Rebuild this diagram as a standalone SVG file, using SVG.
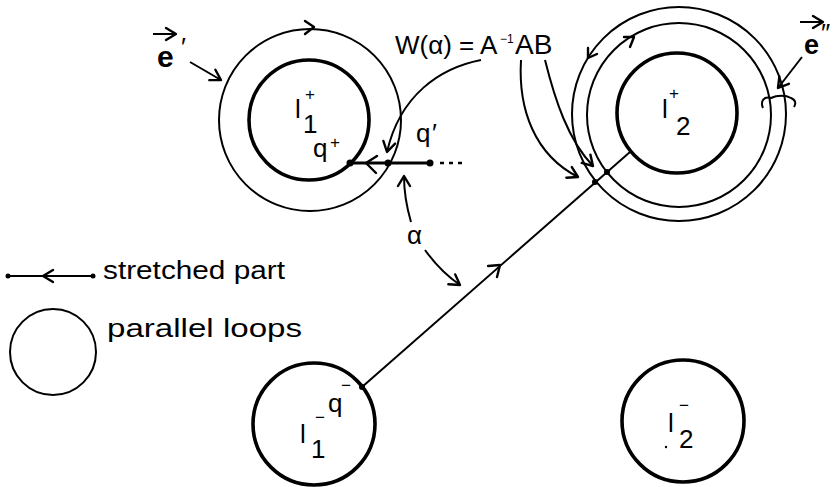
<svg xmlns="http://www.w3.org/2000/svg" width="836" height="487" viewBox="0 0 836 487">
  <style>
    .thin { fill: none; stroke: #000; stroke-width: 2; }
    .thick { fill: none; stroke: #000; stroke-width: 3.6; }
    .bar { fill: none; stroke: #000; stroke-width: 3; }
    .chev { fill: none; stroke: #000; stroke-width: 2.4; stroke-linecap: round; stroke-linejoin: round; }
    .dot { fill: #000; }
    .t { font-family: "Liberation Sans", Arial, sans-serif; fill: #000; }
    .big { font-size: 26px; }
    .sup { font-size: 17px; }
    .vec { font-weight: bold; }
  </style>
  <defs>
    <marker id="head" markerUnits="userSpaceOnUse" markerWidth="16" markerHeight="16" refX="0" refY="0" viewBox="-12 -8 14 16" orient="auto">
      <path d="M -10 -6 L 0 0 L -10 6" fill="none" stroke="#000" stroke-width="2.4" stroke-linecap="round" stroke-linejoin="round"/>
    </marker>
  </defs>

  <!-- loop l1+ with its parallel loop -->
  <g id="loop-l1-plus">
    <circle class="thin" cx="310" cy="120" r="91"/>
    <circle class="thick" cx="309" cy="120" r="60"/>
    <path class="chev" d="M 305 21 L 314 27 L 305 34"/>
    <text class="t big"><tspan x="295" y="118">l</tspan><tspan class="sup" x="305" y="100">+</tspan><tspan x="303" y="133">1</tspan></text>
  </g>

  <!-- loop l2+ with its two parallel loops -->
  <g id="loop-l2-plus">
    <circle class="thin" cx="679" cy="114" r="107"/>
    <circle class="thin" cx="679" cy="115" r="92"/>
    <circle class="thick" cx="677" cy="113" r="60"/>
    <path class="chev" d="M 624 37 L 634 37 L 630 47"/>
    <path class="chev" d="M 597 54 L 588 58 L 588 48"/>
    <text class="t big"><tspan x="662" y="118">l</tspan><tspan class="sup" x="669" y="99">+</tspan><tspan x="676" y="135">2</tspan></text>
  </g>

  <!-- loop l1- and the base point q- -->
  <g id="loop-l1-minus">
    <circle class="thick" cx="314" cy="424" r="61"/>
    <text class="t big"><tspan x="300" y="443">l</tspan><tspan class="sup" x="315" y="423">−</tspan><tspan x="311" y="458">1</tspan></text>
    <text class="t big"><tspan x="328" y="412">q</tspan><tspan class="sup" x="341" y="391">−</tspan></text>
  </g>

  <!-- loop l2- -->
  <g id="loop-l2-minus">
    <circle class="thick" cx="683" cy="421" r="61"/>
    <circle class="dot" cx="666" cy="447" r="1.2"/>
    <text class="t big"><tspan x="668" y="432">l</tspan><tspan class="sup" x="679" y="411">−</tspan><tspan x="679" y="448">2</tspan></text>
  </g>

  <!-- stretched segment q+ .. q' -->
  <g id="stretched-segment">
    <line class="bar" x1="350" y1="163" x2="430" y2="163"/>
    <line x1="440" y1="163" x2="464" y2="163" stroke="#000" stroke-width="2.6" stroke-dasharray="4 5"/>
    <path class="chev" d="M 377 156 L 366 163 L 376 173"/>
    <circle class="dot" cx="350" cy="163" r="3.5"/>
    <circle class="dot" cx="388" cy="163" r="3.5"/>
    <circle class="dot" cx="430" cy="163" r="3.5"/>
    <text class="t big"><tspan x="313" y="157">q</tspan><tspan class="sup" x="330" y="148">+</tspan></text>
    <text class="t big"><tspan x="416" y="142">q</tspan><tspan x="432" y="142">′</tspan></text>
  </g>

  <!-- connectors: path from q- to the loops of l2+, holonomy pointers, angle -->
  <g id="connectors">
    <line class="thin" x1="362" y1="387" x2="630" y2="152"/>
    <path class="chev" d="M 488 266 L 500 265 L 497 277"/>
    <circle class="dot" cx="362" cy="387" r="3"/>
    <circle class="dot" cx="595" cy="182" r="3"/>
    <circle class="dot" cx="607" cy="172" r="3"/>

    <path class="thin" d="M 481 60 C 440 68 400 95 387 152" marker-end="url(#head)"/>
    <path class="thin" d="M 521 60 C 518 110 535 155 578 177" marker-end="url(#head)"/>
    <path class="thin" d="M 545 60 C 555 100 568 140 593 166" marker-end="url(#head)"/>

    <path class="thin" d="M 411 222 C 406 205 404 192 404 176" marker-end="url(#head)"/>
    <path class="thin" d="M 425 250 C 435 264 447 276 460 285" marker-end="url(#head)"/>

    <path class="thin" d="M 190 62 L 221 80" marker-end="url(#head)"/>
    <path class="thin" d="M 802 57 L 778 88" marker-end="url(#head)"/>
    <path class="thin" d="M 763 108 C 760 101 764 96 771 98 C 777 95 786 95 791 98 C 796 100 796 104 794 107"/>
  </g>

  <!-- labels -->
  <g id="labels">
    <text class="t"><tspan font-size="26" x="395" y="54">W(α) = A</tspan><tspan font-size="12" x="500" y="43">−1</tspan><tspan font-size="28" x="515" y="54">AB</tspan></text>
    <text class="t big" x="407" y="244">α</text>

    <path class="thin" d="M 153 34 L 176 34" marker-end="url(#head)"/>
    <text class="t"><tspan class="vec" font-size="30" x="157" y="67">e</tspan><tspan font-size="26" x="181" y="56">′</tspan></text>

    <path class="thin" d="M 800 22 L 823 22" marker-end="url(#head)"/>
    <text class="t"><tspan class="vec" font-size="27" x="804" y="54">e</tspan><tspan font-size="26" x="821" y="42">″</tspan></text>
  </g>

  <!-- legend -->
  <g id="legend">
    <line class="thin" x1="8" y1="276" x2="93" y2="276"/>
    <path class="chev" d="M 53 270 L 43 276 L 53 282"/>
    <circle class="dot" cx="8" cy="276" r="2.5"/>
    <circle class="dot" cx="93" cy="276" r="2.5"/>
    <text class="t big" x="103" y="279" textLength="182" lengthAdjust="spacingAndGlyphs">stretched part</text>
    <circle class="thin" cx="53" cy="352" r="43"/>
    <text class="t big" x="107" y="337" textLength="195" lengthAdjust="spacingAndGlyphs">parallel loops</text>
  </g>
</svg>
